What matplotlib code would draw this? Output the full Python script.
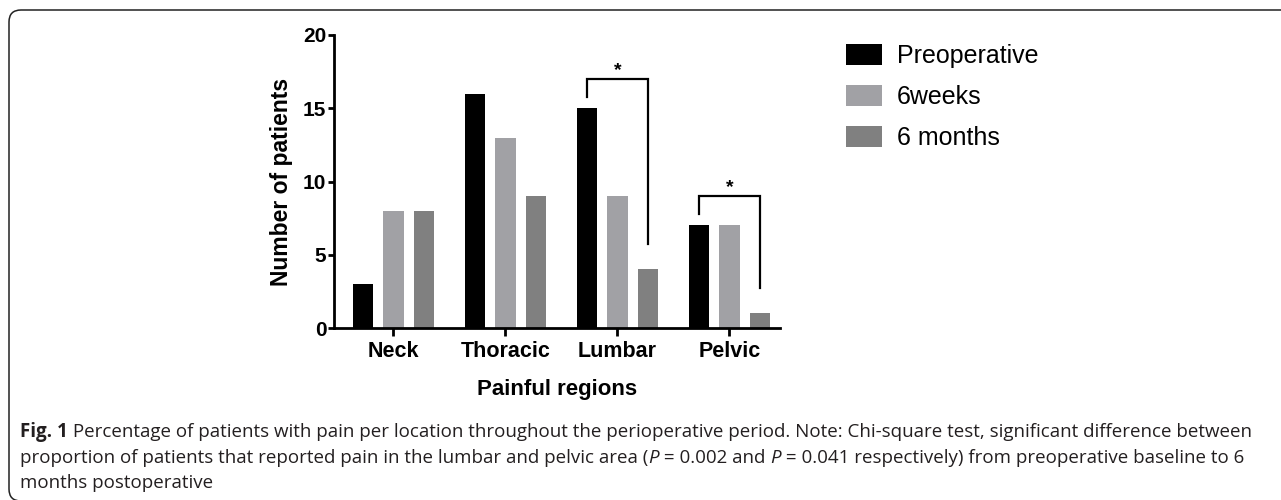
import matplotlib
matplotlib.use("Agg")
import matplotlib.pyplot as plt
import numpy as np
from matplotlib.patches import FancyBboxPatch

# data
regions = ["Neck", "Thoracic", "Lumbar", "Pelvic"]
series_names = ["Preoperative", "6weeks", "6 months"]
preop = [3, 16, 15, 7]
weeks6 = [8, 13, 9, 7]
months6 = [8, 9, 4, 1]
# significance brackets: (region index, label)
sig_regions = [2, 3]
sig_labels = ["*", "*"]

colors = ["#000000", "#a1a1a5", "#808080"]
W, H = 1281, 500

plt.rcParams["font.family"] = ["Liberation Sans", "DejaVu Sans"]

fig = plt.figure(figsize=(W / 100, H / 100), dpi=100)

# rounded frame around figure + caption (runs off the right and bottom edges)
frame = FancyBboxPatch((9 / W, -1 / H), 1.2, (H - 9) / H,
                       boxstyle="round,pad=0,rounding_size=%f" % (12 / W),
                       transform=fig.transFigure, fill=False,
                       edgecolor="#222222", linewidth=1.1,
                       mutation_aspect=W / H)
fig.patches.append(frame)

ax = fig.add_axes([334 / W, 1 - 328 / H, (780 - 334) / W, (328 - 35) / H])

x = np.arange(len(regions))
offset, width = 0.272, 0.18
for i, (vals, name) in enumerate(zip([preop, weeks6, months6], series_names)):
    ax.bar(x + (i - 1) * offset, vals, width, color=colors[i], label=name)

ax.set_xlim(-0.531, 3.451)
ax.set_ylim(0, 20)
ax.set_yticks([0, 5, 10, 15, 20])
ax.set_xticks(x)
ax.set_xticklabels(regions, fontsize=15.5, fontweight="bold")
for lab in ax.get_yticklabels():
    lab.set_fontsize(15)
    lab.set_fontweight("bold")
ax.tick_params(axis="y", width=2, length=4, pad=1.5)
ax.tick_params(axis="x", width=2, length=6, pad=3.5)
for s in ["top", "right"]:
    ax.spines[s].set_visible(False)
for s in ["left", "bottom"]:
    ax.spines[s].set_linewidth(2)
ax.set_ylabel("Number of patients", fontsize=16.5, fontweight="bold", labelpad=7)
ax.set_xlabel("Painful regions", fontsize=16, fontweight="bold", labelpad=12)

# significance brackets between preoperative and 6 months
for idx, lab in zip(sig_regions, sig_labels):
    x0, x1 = idx - offset, idx + offset
    top = max(preop[idx], months6[idx]) + 2.0
    ax.plot([x0, x0, x1, x1], [preop[idx] + 0.8, top, top, months6[idx] + 1.7],
            color="black", lw=1.6, solid_joinstyle="miter", clip_on=False)
    ax.text((x0 + x1) / 2, top + 0.02, lab, ha="center", va="bottom",
            fontsize=14, fontweight="bold")

leg = ax.legend(loc="upper left", bbox_to_anchor=(846 / W, 1 - 44 / H),
                bbox_transform=fig.transFigure, frameon=False, fontsize=18,
                handlelength=1.44, handleheight=0.88, handletextpad=0.6,
                labelspacing=0.68, borderpad=0, borderaxespad=0)

# caption with mixed styles
renderer = fig.canvas.get_renderer()
cap_size = 13.5
cap_lines = [
    [("Fig. 1", dict(fontweight="bold")),
     (" Percentage of patients with pain per location throughout the perioperative "
      "period. Note: Chi-square test, significant difference between", {})],
    [("proportion of patients that reported pain in the lumbar and pelvic area (", {}),
     ("P", dict(style="italic")), (" = 0.002 and ", {}),
     ("P", dict(style="italic")),
     (" = 0.041 respectively) from preoperative baseline to 6", {})],
    [("months postoperative", {})],
]
baselines = [437, 463, 488]
for runs, yb in zip(cap_lines, baselines):
    xp = 20
    for txt, kw in runs:
        t = fig.text(xp / W, 1 - yb / H, txt, fontsize=cap_size,
                     family=["Open Sans", "DejaVu Sans"], va="baseline",
                     ha="left", color="#231f20", **kw)
        xp += t.get_window_extent(renderer).width

fig.savefig("out.png", dpi=100)
